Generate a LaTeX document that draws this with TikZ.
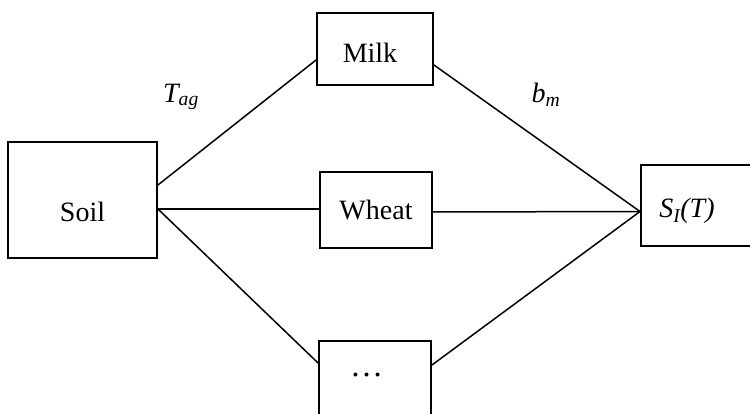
\documentclass[tikz,border=0pt]{standalone}
\usepackage{fontspec}
\setmainfont{Liberation Serif}
\usetikzlibrary{calc}
\begin{document}
\begin{tikzpicture}[x=1pt,y=-1pt,
  box/.style={draw, line width=1.9pt, inner sep=0pt, text depth=0pt,
    font=\fontsize{28}{32}\selectfont},
  link/.style={line width=1.5pt},
  lbl/.style={font=\fontsize{28}{32}\selectfont\itshape}]
\useasboundingbox (0,0) rectangle (750,414);
\clip (0,0) rectangle (750,414);

% boxes
\node[box, minimum width=149pt, minimum height=116pt, text height=44pt]
  (soil) at (82.5,200) {Soil};
\node[box, minimum width=116pt, minimum height=72pt, text height=28pt]
  (milk) at (375,49) {\hspace*{-10pt}Milk};
\node[box, minimum width=112pt, minimum height=76pt, text height=20pt]
  (wheat) at (376,210) {Wheat};
\node[box, minimum width=112pt, minimum height=76pt, text height=0pt, text depth=6pt]
  (dots) at (375,379) {\hspace*{-17pt}{\fontsize{33}{36}\selectfont\ldots}};
\node[box, anchor=west, minimum width=130pt, minimum height=81pt, text height=25pt]
  (si) at (640,205.5) {\hspace*{-38pt}\itshape S\textsubscript{I}(T)};

% connectors
\draw[link] ([yshift=15pt]soil.east) -- ([yshift=-11pt]milk.west);
\draw[link] ([yshift=-9pt]soil.east) -- ([yshift=1pt]wheat.west);
\draw[link] ([yshift=-9pt]soil.east) -- ([yshift=16pt]dots.west);
\draw[link] ([yshift=-16pt]milk.east) -- ([yshift=-6pt]si.west);
\draw[link] ([yshift=-2pt]wheat.east) -- ([yshift=-6pt]si.west);
\draw[link] ([yshift=14pt]dots.east) -- ([yshift=-6pt]si.west);

% edge labels
\node[lbl] (tag) at (181,97) {T\textsubscript{ag}};
\node[lbl] (bm) at (546,95) {b\textsubscript{m}};
\end{tikzpicture}
\end{document}
